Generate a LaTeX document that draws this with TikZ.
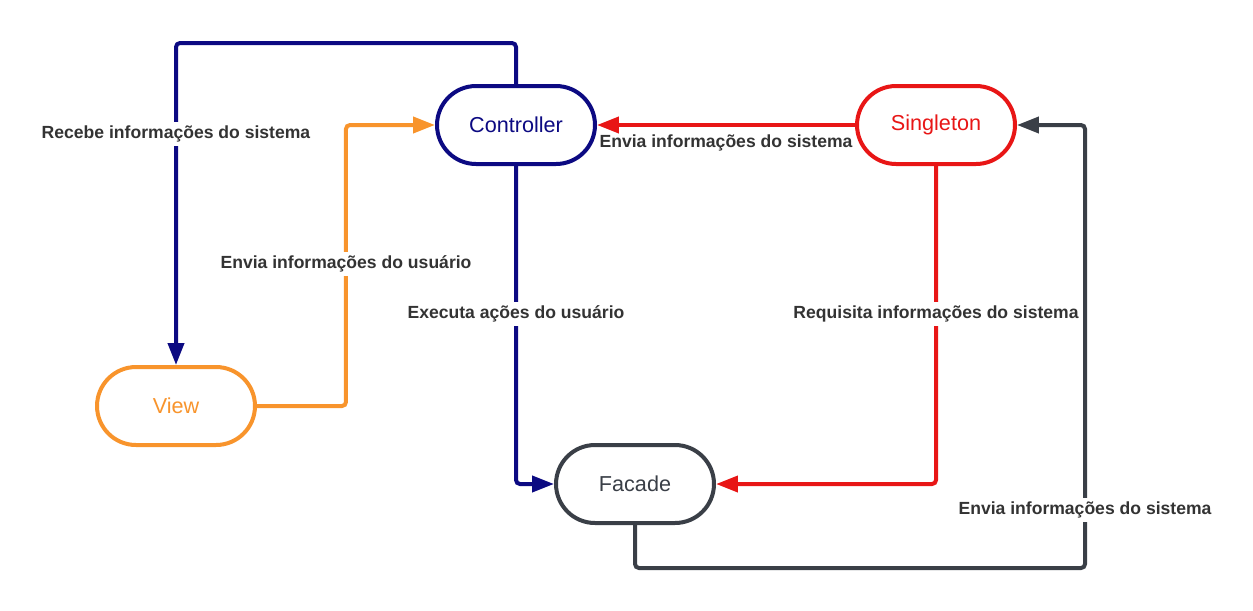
\documentclass[tikz,border=0pt]{standalone}
\usepackage{fontspec}
\setmainfont{Liberation Sans}
\usetikzlibrary{arrows.meta}

\definecolor{ctrlblue}{RGB}{12,10,130}
\definecolor{singred}{RGB}{232,22,22}
\definecolor{vieworange}{RGB}{248,148,44}
\definecolor{facgray}{RGB}{58,63,71}
\definecolor{labelgray}{RGB}{51,51,51}

\tikzset{
  state/.style={draw=#1, text=#1, line width=0.08cm, rectangle, rounded corners=0.78cm,
    minimum width=3.16cm, minimum height=1.56cm, inner sep=0pt, fill=white,
    font=\fontsize{12.3}{14}\selectfont},
  link/.style={line width=0.08cm, rounded corners=0.08cm,
    -{Triangle[length=0.44cm,width=0.32cm]}},
  msg/.style={fill=white, inner sep=2pt, text=labelgray,
    font=\fontsize{10}{12}\selectfont\bfseries}
}

\begin{document}
\begin{tikzpicture}[x=0.02cm, y=-0.02cm]
  \useasboundingbox (0,0) rectangle (1253,610);

  \node[state=ctrlblue] (ctrl) at (516,125) {Controller};
  \node[state=singred] (sing) at (936,125) {Singleton};
  \node[state=vieworange] (view) at (176,406) {View};
  \node[state=facgray] (facade) at (635,484) {Facade};

  \draw[link, ctrlblue] (ctrl.north) -- ++(0,-41) -| (view.north);
  \draw[link, vieworange] (view.east) -- ++(89,0) |- (ctrl.west);
  \draw[link, ctrlblue] (ctrl.south) |- (facade.west);
  \draw[link, singred] (sing.west) -- (ctrl.east);
  \draw[link, singred] (sing.south) |- (facade.east);
  \draw[link, facgray] (facade.south) -- ++(0,43) -- ++(450,0) |- (sing.east);

  \node[msg] (recebe) at (176,134) {Recebe informações do sistema};
  \node[msg] (enviauser) at (346,264) {Envia informações do usuário};
  \node[msg] (executa) at (516,314) {Executa ações do usuário};
  \node[msg, fill=none] (enviactrl) at (726,143) {Envia informações do sistema};
  \node[msg] (requisita) at (936,314) {Requisita informações do sistema};
  \node[msg] (enviasing) at (1085,510) {Envia informações do sistema};
\end{tikzpicture}
\end{document}
